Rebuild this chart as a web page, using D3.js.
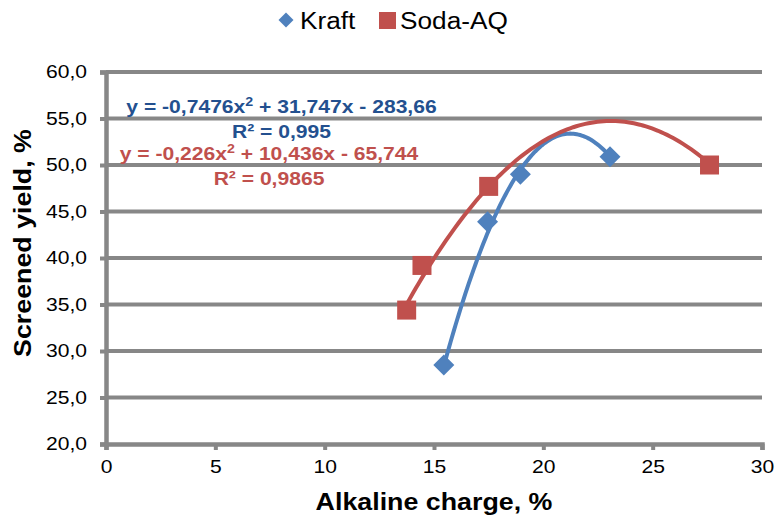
<!DOCTYPE html>
<html>
<head>
<meta charset="utf-8">
<script src="https://cdn.jsdelivr.net/npm/d3@7"></script>
<style>
  body { margin: 0; background: #fff; }
  text { font-family: "Liberation Sans", Arial, sans-serif; }
</style>
</head>
<body>
<div id="chart"></div>
<script>
// data
var kraftX = [15.45, 17.45, 18.95, 23.05];
var kraftY = [28.5, 43.9, 49.0, 50.9];
var sodaX = [13.75, 14.45, 17.5, 27.6];
var sodaY = [34.4, 39.2, 47.7, 50.0];

// trendline coefficients [a, b, c] for y = a x^2 + b x + c
var kraftFit = [-0.7476, 31.747, -283.66];
var sodaFit = [-0.226, 10.436, -65.744];

var xTicks = [0, 5, 10, 15, 20, 25, 30];
var yTicks = [20, 25, 30, 35, 40, 45, 50, 55, 60];

const width = 775, height = 521;
const margin = ({ top: 72, right: 13, bottom: 77, left: 106 });
const grey = "#878787";
const blue = "#4F81BD", red = "#C0504D";
const stretch = 1.14; // the text in the picture is a bit wider than plain Arial

var svg = d3.select("#chart").append("svg")
    .attr("width", width)
    .attr("height", height);

// widen a text along its direction
function widen(sel, k) {
    sel.each(function() {
        var w = this.getComputedTextLength();
        d3.select(this).attr("textLength", w * (k || stretch)).attr("lengthAdjust", "spacingAndGlyphs");
    });
}

var x = d3.scaleLinear().domain([0, 30]).range([margin.left, width - margin.right]);
var y = d3.scaleLinear().domain([20, 60]).range([height - margin.bottom, margin.top]);

// horizontal gridlines
svg.append("g").selectAll("line")
    .data(yTicks.slice(1))
    .enter().append("line")
    .attr("x1", x(0)).attr("x2", x(30))
    .attr("y1", d => y(d)).attr("y2", d => y(d))
    .attr("stroke", grey).attr("stroke-width", 4);

// axes
var fmt = d => d.toFixed(1).replace(".", ",");
var yAxis = svg.append("g")
    .attr("transform", `translate(${x(0)},0)`)
    .call(d3.axisLeft(y).tickValues(yTicks).tickFormat(fmt).tickSize(6).tickPadding(13));
var xAxis = svg.append("g")
    .attr("transform", `translate(0,${y(20)})`)
    .call(d3.axisBottom(x).tickValues(xTicks).tickSize(6).tickPadding(10));

[xAxis, yAxis].forEach(function(ax) {
    ax.select(".domain").attr("stroke", grey).attr("stroke-width", 4.5);
    ax.selectAll(".tick line").attr("stroke", grey).attr("stroke-width", 4);
    ax.selectAll(".tick text").attr("fill", "#000").style("font-size", "18.5px")
        .style("font-family", "'Liberation Sans', Arial, sans-serif")
        .call(widen);
});

// axis titles
svg.append("text")
    .attr("x", (x(0) + x(30)) / 2).attr("y", 510)
    .attr("text-anchor", "middle")
    .style("font-size", "23.5px").style("font-weight", "bold")
    .text("Alkaline charge, %")
    .call(widen);
svg.append("text")
    .attr("transform", "translate(31,243) rotate(-90)")
    .attr("text-anchor", "middle")
    .style("font-size", "23.5px").style("font-weight", "bold")
    .text("Screened yield, %")
    .call(widen);

// trendlines
function drawFit(coef, xs, color) {
    var lo = d3.min(xs), hi = d3.max(xs);
    var pts = d3.range(0, 101).map(i => {
        var xv = lo + (hi - lo) * i / 100;
        return [xv, coef[0] * xv * xv + coef[1] * xv + coef[2]];
    });
    svg.append("path")
        .datum(pts)
        .attr("fill", "none")
        .attr("stroke", color)
        .attr("stroke-width", 4)
        .attr("d", d3.line().x(d => x(d[0])).y(d => y(d[1])));
}
drawFit(kraftFit, kraftX, blue);
drawFit(sodaFit, sodaX, red);

// markers
svg.append("g").selectAll("path")
    .data(kraftX.map((d, i) => [d, kraftY[i]]))
    .enter().append("path")
    .attr("d", d3.symbol(d3.symbolDiamond2, 281))
    .attr("transform", d => `translate(${x(d[0])},${y(d[1])})`)
    .attr("fill", blue);
svg.append("g").selectAll("rect")
    .data(sodaX.map((d, i) => [d, sodaY[i]]))
    .enter().append("rect")
    .attr("x", d => x(d[0]) - 9.5).attr("y", d => y(d[1]) - 9.5)
    .attr("width", 19).attr("height", 19)
    .attr("fill", red);

// equations, drawn in a widened group
function eqText(cx, yp, color, parts) {
    var g = svg.append("g").attr("transform", `translate(${cx},${yp}) scale(${stretch},1)`);
    var t = g.append("text")
        .attr("text-anchor", "middle")
        .attr("fill", color)
        .style("font-size", "18.5px").style("font-weight", "bold");
    parts.forEach(function(p) {
        var s = t.append("tspan").text(p[0]);
        if (p[1]) s.attr("dy", -7).style("font-size", "12.5px");
        if (p[2]) s.attr("dy", 7);
    });
}
eqText(281.5, 113, "#23508F", [["y = -0,7476x"], ["2", true], [" + 31,747x - 283,66", false, true]]);
eqText(281.5, 138, "#23508F", [["R² = 0,995"]]);
eqText(269, 160, red, [["y = -0,226x"], ["2", true], [" + 10,436x - 65,744", false, true]]);
eqText(269, 185, red, [["R² = 0,9865"]]);

// legend
var lg = svg.append("g").attr("transform", "translate(286,20)");
lg.append("path").attr("d", d3.symbol(d3.symbolDiamond2, 143)).attr("fill", blue);
lg.append("text").attr("x", 14).attr("y", 9).style("font-size", "23px").text("Kraft").call(widen);
lg.append("rect").attr("x", 93).attr("y", -8).attr("width", 17).attr("height", 17).attr("fill", red);
lg.append("text").attr("x", 114).attr("y", 9).style("font-size", "23px").text("Soda-AQ").call(widen);
</script>
</body>
</html>
